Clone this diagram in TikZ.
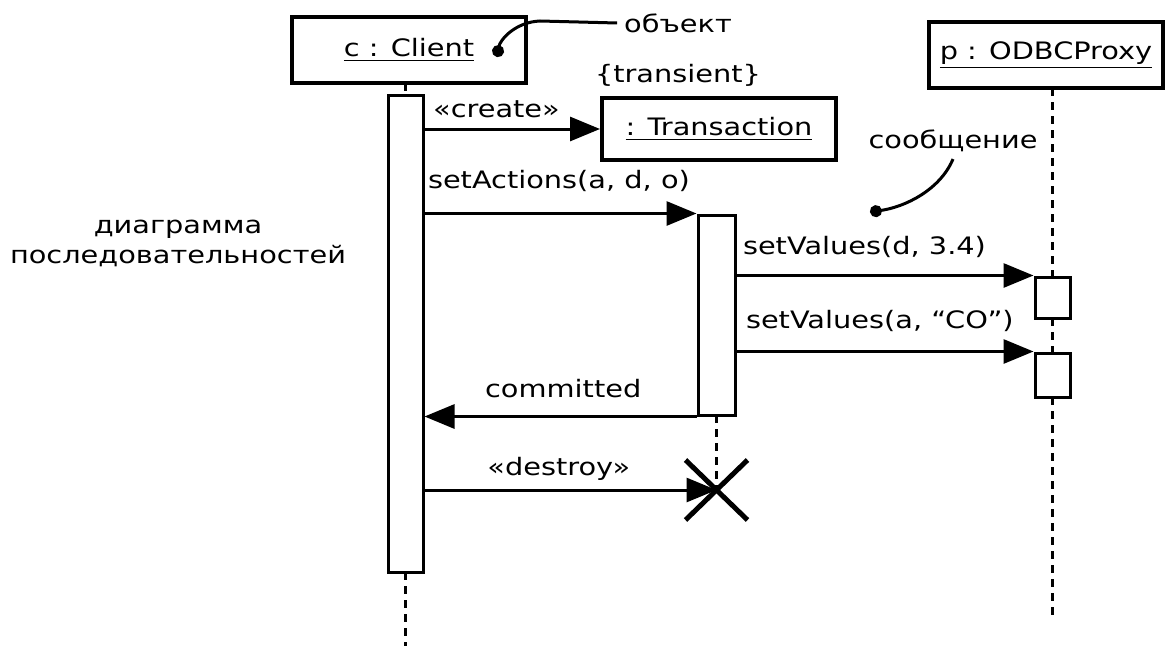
\documentclass[tikz,border=0pt]{standalone}
\usepackage{fontspec}
\setmainfont{DejaVu Sans}[FakeStretch=1.2]
\usetikzlibrary{arrows.meta}

\tikzset{
  obj/.style={draw, line width=2pt, minimum width=117pt, minimum height=33pt},
  act/.style={draw, line width=1.5pt, fill=white, minimum width=17.5pt, inner sep=0pt},
  msg/.style={line width=1.5pt, -{Triangle[length=15pt,width=12pt]}},
  life/.style={line width=1.5pt, dash pattern=on 4pt off 3pt},
  note/.style={line width=1.5pt, -{Circle[length=6pt]}},
}

\begin{document}
\begin{tikzpicture}[x=0.5pt,y=-0.5pt,font=\fontsize{12}{15}\selectfont]
\path[fill=white] (0,0) rectangle (1166,646);

% objects
\node[obj] (client) at (409,50) {\underline{c : Client}};
\node[obj, minimum height=31pt] (trans) at (719,129) {\underline{: Transaction}};
\node[obj] (proxy) at (1046,55) {\underline{p : ODBCProxy}};
\node (transient) at (678,75) {\{transient\}};

% notes
\node (objnote) at (678,23) {объект};
\node (msgnote) at (953,141) {сообщение};
\node[align=center] (title) at (178,243) {диаграмма\\последовательностей};
\coordinate (objdot) at (497,57);
\coordinate (msgdot) at (870,212);

% lifelines
\coordinate (clientend) at (405.5,646);
\coordinate (proxyend) at (1052.5,620);
\coordinate (kill) at (716.5,490);
\draw[life] (405.5,83) -- (405.5,95);
\draw[life] (405.5,572) -- (clientend);
\draw[life] (1052.5,88) -- (1052.5,277);
\draw[life] (1052.5,318) -- (1052.5,353);
\draw[life] (1052.5,397) -- (proxyend);
\draw[life] (716.5,415) -- (kill);

% activations
\node[act, minimum height=238.5pt] (clientbar) at (405.5,333.5) {};
\node[act, minimum width=18.5pt, minimum height=100pt] (transbar) at (716.5,315) {};
\node[act, minimum height=20.5pt] (proxybar1) at (1052.5,297.5) {};
\node[act, minimum height=22pt] (proxybar2) at (1052.5,375) {};

% messages
\draw[msg] (clientbar.east |- trans.west) -- (trans.west) node[above=5pt,inner sep=0pt,pos=.41]{«create»};
\draw[msg] (clientbar.east |- transbar.north) -- (transbar.north west) node[anchor=south west,inner sep=0pt,yshift=10pt,xshift=1pt,pos=0]{setActions(a, d, o)};
\draw[msg] (transbar.east |- proxybar1.north) -- (proxybar1.north west) node[anchor=south west,inner sep=0pt,yshift=8pt,xshift=2.5pt,pos=0]{setValues(d, 3.4)};
\draw[msg] (transbar.east |- proxybar2.north) -- (proxybar2.north west) node[anchor=south west,inner sep=0pt,yshift=9pt,xshift=4pt,pos=0]{setValues(a, “CO”)};
\draw[msg] (transbar.south west) -- (clientbar.east |- transbar.south) node[above=8.5pt,inner sep=0pt,pos=.49]{committed};
\draw[msg] (clientbar.east |- kill) -- (kill) node[above=4pt,inner sep=0pt,pos=.46]{«destroy»};

% destruction
\draw[line width=2.5pt] ([shift={(-31,-30)}]kill) -- ([shift={(31,30)}]kill);
\draw[line width=2.5pt] ([shift={(-31,30)}]kill) -- ([shift={(31,-30)}]kill);

% note connectors
\draw[note] (objnote.west) -- (540,21) .. controls (515,22) and (500,40) .. (objdot);
\draw[note] (msgnote.south) .. controls (940,190) and (905,207) .. (msgdot);

\end{tikzpicture}
\end{document}
